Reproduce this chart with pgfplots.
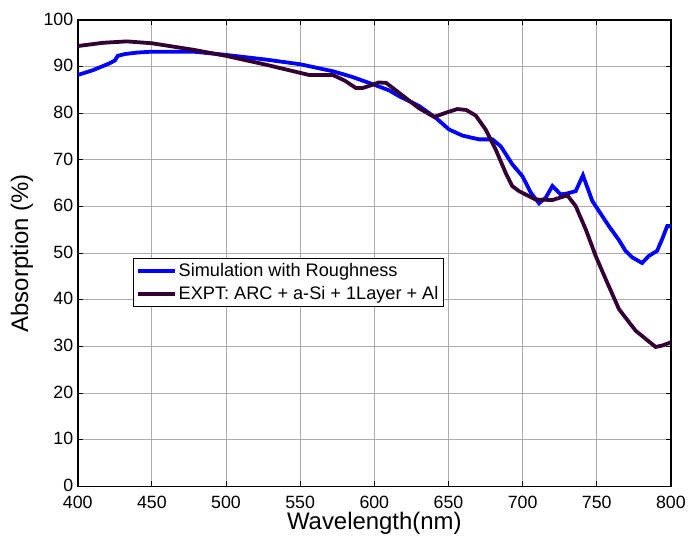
\documentclass[border=0pt]{standalone}
\usepackage{fontspec}
\setmainfont{Liberation Sans}
\usepackage{pgfplots}
\pgfplotsset{compat=1.18}
\definecolor{expt}{RGB}{51,0,51}
\definecolor{simblue}{RGB}{0,0,255}
\begin{document}
\begin{tikzpicture}
\begin{axis}[
  scale only axis, width=595pt, height=468pt,
  xmin=400, xmax=800, ymin=0, ymax=100,
  xtick={400,450,...,800}, ytick={0,10,...,100},
  grid=major, major grid style={gray!65, line width=0.8pt},
  axis line style={line width=1.5pt},
  tick align=inside, major tick length=5pt, tick style={black, line width=0.8pt},
  /pgf/number format/assume math mode=true,
  /pgf/number format/1000 sep={},
  ticklabel style={font=\fontsize{17.8}{20}\selectfont},
  xticklabel style={yshift=-6pt},
  yticklabel style={xshift=-1pt, yshift=1pt},
  xlabel={Wavelength(nm)},
  ylabel={Absorption (\%)},
  label style={font=\fontsize{24}{28}\selectfont},
  xlabel style={at={(axis description cs:0.5,-0.08)}, anchor=center},
  ylabel style={at={(axis description cs:-0.094,0.5)}, anchor=center},
  legend style={at={(rel axis cs:0.0924,0.489)}, anchor=north west, draw=black,
    line width=1pt, font=\fontsize{18.2}{22}\selectfont, inner xsep=3pt, inner ysep=3pt,
    row sep=4pt, cells={anchor=west}, fill=white},
  legend image code/.code={\draw[#1] (3pt,0pt) -- (40pt,0pt);},
]
\addplot[simblue, line width=3.8pt] coordinates {
(400,88.2) (410,89.2) (421.5,90.7) (425,91.3) (427,92.3) (432,92.7) (440,93.0)
(450,93.2) (478,93.2) (500,92.5) (527,91.5) (550,90.5) (572,89.0) (585,87.8)
(600,86.1) (610,84.9) (617,83.6) (630,81.6) (641.5,79.0) (650.5,76.5)
(659.5,75.2) (670.7,74.4) (679.7,74.4) (685.3,72.9) (693.2,69.0) (699.9,66.5)
(705.5,63.0) (711.1,60.7) (715.6,61.9) (720.1,64.4) (725.7,62.6) (730,62.8)
(735.8,63.3) (740.7,66.7) (747,61.2) (758.2,55.8) (765,52.8) (769.4,50.5)
(773.9,49.1) (780.6,47.9) (785.1,49.4) (790.7,50.5) (794.1,53.0) (797.5,55.8)
(800,55.8)
};
\addlegendentry{Simulation with Roughness}
\addplot[expt, line width=3.8pt] coordinates {
(400,94.4) (417,95.1) (433,95.4) (450,95.0) (478,93.6) (500,92.3) (527,90.4)
(556,88.2) (572,88.2) (580,87.0) (587.6,85.4) (592,85.4) (597,85.9) (603,86.6)
(608,86.5) (617,84.3) (630,81.1) (640.4,79.2) (648.2,80.1) (656,80.9)
(662,80.7) (668.4,79.5) (675.1,76.5) (681.9,72.2) (688.6,67.2) (693,64.4)
(697.6,63.3) (708.9,61.5) (720.1,61.4) (730.2,62.4) (735.8,60.1) (742.6,55.1)
(749.3,49.4) (756.1,44.4) (765,38.0) (776.2,33.4) (789.7,29.9) (794.1,30.2)
(800,30.9)
};
\addlegendentry{EXPT: ARC + a-Si + 1Layer + Al}
\coordinate (ll) at (rel axis cs:0,0);
\coordinate (ur) at (rel axis cs:1,1);
\end{axis}
\path ([shift={(-78pt,-50pt)}]ll) rectangle ([shift={(16pt,20pt)}]ur);
\end{tikzpicture}
\end{document}
